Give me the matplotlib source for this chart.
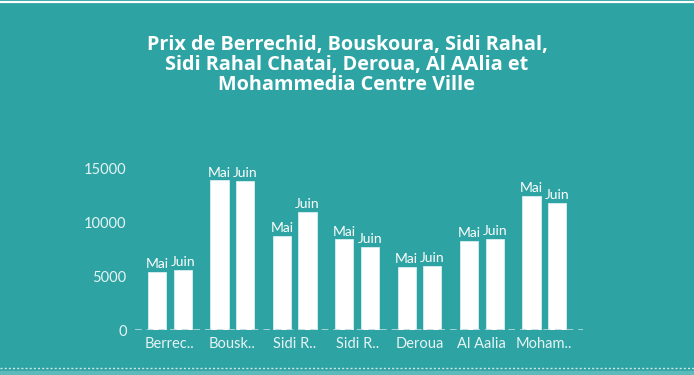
import numpy as np
import matplotlib
matplotlib.use('Agg')
import matplotlib.pyplot as plt
from matplotlib.lines import Line2D
from matplotlib.patches import Rectangle

# ── Data ──────────────────────────────────────────────────────────────────────
villes = ['Berrec..', 'Bousk..', 'Sidi R..', 'Sidi R..', 'Deroua', 'Al Aalia', 'Moham..']
prix_mai  = [5410, 13900, 8750, 8410, 5840, 8260, 12430]
prix_juin = [5570, 13820, 10980, 7700, 5940, 8440, 11810]
yticks = [0, 5000, 10000, 15000]
titre = 'Prix de Berrechid, Bouskoura, Sidi Rahal,\nSidi Rahal Chatai, Deroua, Al AAlia et\nMohammedia Centre Ville'

BG = '#2ea3a3'
TXT = '#e6f4f4'

fig = plt.figure(figsize=(6.94, 3.75), dpi=100, facecolor=BG)
ax = fig.add_axes([135 / 694, 1 - 330 / 375, 448 / 694, 161.7 / 375 * 16500 / 15000])
ax.set_facecolor(BG)

x = np.arange(len(villes))
off, w = 0.205, 0.29
b1 = ax.bar(x - off, prix_mai,  w, color='white', edgecolor='#d8eeee', linewidth=0.6)
b2 = ax.bar(x + off, prix_juin, w, color='white', edgecolor='#d8eeee', linewidth=0.6)
for bars, lab in ((b1, 'Mai'), (b2, 'Juin')):
    for b in bars:
        ax.text(b.get_x() + b.get_width() / 2, b.get_height() + 150, lab,
                ha='center', va='bottom', color='white', fontsize=10, family='Lato')

ax.set_xlim(-0.56, 6.62)
ax.set_ylim(0, 16500)
ax.axhline(0, color='#b8dcdc', lw=1.2, ls=(0, (4, 3)))
ax.set_yticks(yticks)
ax.set_yticklabels([str(v) for v in yticks], color=TXT, fontsize=10.5, family='Lato')
ax.set_xticks(x)
ax.set_xticklabels(villes, color=TXT, fontsize=10.5, family='Lato')
ax.tick_params(length=0, pad=5)
ax.tick_params(axis='y', pad=6)
for s in ax.spines.values():
    s.set_visible(False)

fig.text(0.5, 1 - 65 / 375, titre, ha='center', va='center', color='white',
         fontsize=14.3, fontweight='bold', family='Open Sans', linespacing=0.98)

# top / bottom decoration lines
fig.add_artist(Line2D([0, 1], [1 - 2 / 375, 1 - 2 / 375], color='white', lw=1.6, transform=fig.transFigure))
fig.add_artist(Line2D([0, 1], [1 - 367.5 / 375, 1 - 367.5 / 375], color='#cfe6e6', lw=1.0,
                      ls=(0, (1.5, 1.5)), transform=fig.transFigure))
fig.add_artist(Rectangle((0, 0), 1, 4.5 / 375, color='#5cbaba', transform=fig.transFigure))

fig.savefig('out.png', dpi=100, facecolor=BG)
